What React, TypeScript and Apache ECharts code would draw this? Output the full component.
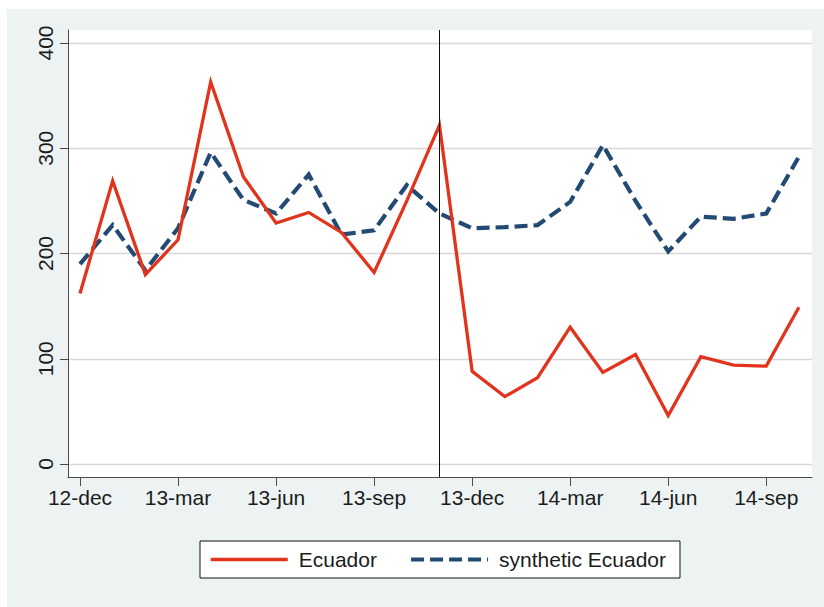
import React, { useEffect, useRef } from "react";
import * as echarts from "echarts";

// Monthly observations, Dec 2012 – Oct 2014
const months = [
  "12-dec", "13-jan", "13-feb", "13-mar", "13-apr", "13-may", "13-jun", "13-jul",
  "13-aug", "13-sep", "13-oct", "13-nov", "13-dec", "14-jan", "14-feb", "14-mar",
  "14-apr", "14-may", "14-jun", "14-jul", "14-aug", "14-sep", "14-oct",
];

const ecuador = [
  162, 269, 180, 213, 363, 273, 229, 239, 220, 182, 250, 322,
  88, 64, 82, 130, 87, 104, 46, 102, 94, 93, 149,
];

const syntheticEcuador = [
  190, 227, 184, 224, 296, 251, 238, 275, 218, 222, 265, 238,
  224, 225, 227, 249, 303, 250, 202, 235, 233, 238, 292,
];

const yTicks = [0, 100, 200, 300, 400];
const xTickIdx = [0, 3, 6, 9, 12, 15, 18, 21];
const treatmentIdx = 11; // 13-nov

const FONT = "'Liberation Sans', Arial, Helvetica, sans-serif";
const TEXT = "#1c1c1c";
const RED = "#e2341c";
const NAVY = "#234a72";

export default function App() {
  const ref = useRef<HTMLDivElement>(null);

  useEffect(() => {
    if (!ref.current) return;
    const chart = echarts.init(ref.current, null, { renderer: "svg" });

    const toPairs = (vals: number[]) => vals.map((v, i) => [i, v]);

    chart.setOption({
      animation: false,
      backgroundColor: "#ffffff",
      textStyle: { fontFamily: FONT },
      graphic: [
        {
          type: "rect",
          z: -10,
          silent: true,
          shape: { x: 7, y: 9, width: 817, height: 598 },
          style: { fill: "#edf3f3" },
        },
        {
          type: "rect",
          z: -9,
          silent: true,
          shape: { x: 68, y: 30, width: 744, height: 447 },
          style: { fill: "#ffffff" },
        },
      ],
      grid: { left: 68, top: 30, width: 744, height: 447, containLabel: false },
      xAxis: {
        type: "value",
        min: -0.367,
        max: 22.4,
        axisLine: { show: true, onZero: false, lineStyle: { color: "#4a4a4a", width: 1 } },
        axisTick: {
          show: true,
          length: 9,
          customValues: xTickIdx,
          lineStyle: { color: "#4a4a4a", width: 1 },
        },
        axisLabel: {
          customValues: xTickIdx,
          margin: 10,
          fontSize: 21,
          color: TEXT,
          fontFamily: FONT,
          formatter: (v: number) => months[Math.round(v)],
        },
        splitLine: { show: false },
      },
      yAxis: {
        type: "value",
        min: -12.35,
        max: 412.35,
        axisLine: { show: true, onZero: false, lineStyle: { color: "#4a4a4a", width: 1 } },
        axisTick: {
          show: true,
          length: 8,
          customValues: yTicks,
          lineStyle: { color: "#4a4a4a", width: 1 },
        },
        axisLabel: {
          customValues: yTicks,
          rotate: 90,
          margin: 12,
          fontSize: 21,
          color: TEXT,
          fontFamily: FONT,
        },
        splitLine: { show: true, lineStyle: { color: "#d8d8d8", width: 1.3 } },
      },
      legend: {
        left: 200,
        top: 541,
        orient: "horizontal",
        backgroundColor: "#ffffff",
        borderColor: "#111111",
        borderWidth: 1,
        padding: [8, 14, 8, 9],
        itemWidth: 77,
        itemHeight: 14,
        itemGap: 32,
        itemStyle: { opacity: 0 },
        textStyle: { fontSize: 21, color: TEXT, fontFamily: FONT, padding: [0, 0, 0, 6] },
        data: [
          { name: "Ecuador", lineStyle: { color: RED, width: 3.5 } },
          { name: "synthetic Ecuador", lineStyle: { color: NAVY, width: 4.2, type: [13, 6] } },
        ],
      },
      series: [
        {
          name: "Ecuador",
          type: "line",
          data: toPairs(ecuador),
          showSymbol: false,
          symbol: "none",
          lineStyle: { color: RED, width: 3.3, join: "miter", miterLimit: 10 },
          itemStyle: { color: RED },
          z: 3,
          markLine: {
            silent: true,
            symbol: "none",
            label: { show: false },
            lineStyle: { color: "#111111", width: 1, type: "solid" },
            data: [{ xAxis: treatmentIdx }],
          },
        },
        {
          name: "synthetic Ecuador",
          type: "line",
          data: toPairs(syntheticEcuador),
          showSymbol: false,
          symbol: "none",
          lineStyle: { color: NAVY, width: 4.2, type: [13, 6], join: "miter", miterLimit: 10 },
          itemStyle: { color: NAVY },
          z: 2,
        },
      ],
    });

    return () => chart.dispose();
  }, []);

  return (
    <div
      ref={ref}
      style={{ position: "absolute", left: 0, top: 0, width: 824, height: 607 }}
    />
  );
}
